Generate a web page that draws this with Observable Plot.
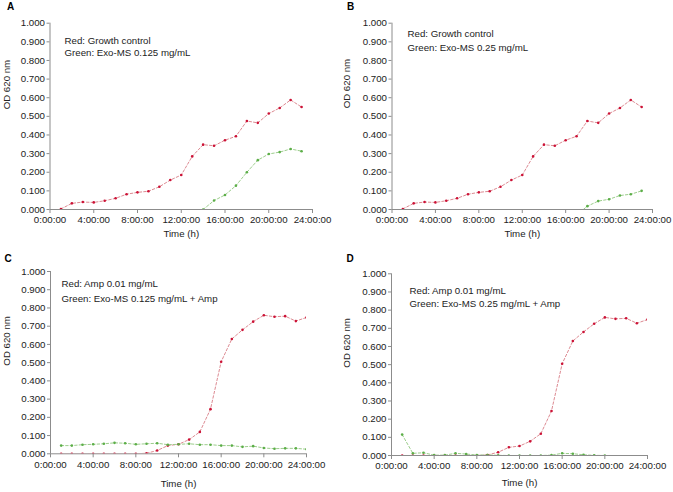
<!DOCTYPE html>
<html><head><meta charset="utf-8">
<script src="https://cdn.jsdelivr.net/npm/d3@7"></script>
<script src="https://cdn.jsdelivr.net/npm/@observablehq/plot@0.6"></script>
<style>
body{margin:0;background:#fff;}
#wrap{position:relative;width:673px;height:492px;overflow:hidden;font-family:"Liberation Sans",Arial,sans-serif;}
#wrap svg{position:absolute;overflow:visible;}
</style></head><body><div id="wrap"></div>
<script>
// ---------- data ----------
const xTicks = [0, 4, 8, 12, 16, 20, 24];
const yTicks = [0, 0.1, 0.2, 0.3, 0.4, 0.5, 0.6, 0.7, 0.8, 0.9, 1.0];

const hoursGrowth = [1,2,3,4,5,6,7,8,9,10,11,12,13,14,15,16,17,18,19,20,21,22,23];
const redGrowth   = [0.003,0.033,0.040,0.038,0.047,0.060,0.082,0.092,0.098,0.122,0.158,0.185,0.285,0.348,0.342,0.372,0.393,0.475,0.465,0.515,0.545,0.588,0.550];

const hoursGreenA = [14,15,16,17,18,19,20,21,22,23];
const greenA      = [0.000,0.048,0.078,0.128,0.200,0.265,0.298,0.308,0.325,0.313];

const hoursGreenB = [17,18,19,20,21,22,23];
const greenB      = [-0.030,0.018,0.045,0.055,0.075,0.082,0.100];

const hoursAmp = [1,2,3,4,5,6,7,8,9,10,11,12,13,14,15,16,17,18,19,20,21,22,23,24];
const redAmp   = [0,0,0,0,0,0,0,0,0.003,0.018,0.045,0.052,0.078,0.120,0.245,0.505,0.630,0.680,0.725,0.760,0.752,0.755,0.728,0.748];

const greenC   = [0.045,0.045,0.050,0.052,0.055,0.060,0.058,0.052,0.055,0.058,0.050,0.052,0.055,0.050,0.050,0.045,0.045,0.038,0.042,0.032,0.028,0.030,0.030,0.025];

const hoursGreenD = [1,2,3,4,5,6,7,8,9,10,11,12,13,14,15,16,17,18,19,20];
const greenD      = [0.115,0.012,0.015,0.002,0.002,0.012,0.008,0.003,0.003,0.001,0,0,0,0,0.002,0.012,0.010,0.004,0.001,0];

const letters = ["A", "B", "C", "D"];
const legendRed = ["Red: Growth control", "Red: Growth control", "Red: Amp 0.01 mg/mL", "Red: Amp 0.01 mg/mL"];
const legendGreen = ["Green: Exo-MS 0.125 mg/mL", "Green: Exo-MS 0.25 mg/mL", "Green: Exo-MS 0.125 mg/mL + Amp", "Green: Exo-MS 0.25 mg/mL + Amp"];
const yTitle = "OD 620 nm";
const xTitle = "Time (h)";

// ---------- layout ----------
const layouts = [
  {left:0,   top:0,   w:336, h:246, ml:49.5, mr:24, mt:22.7, mb:37,  letter:[-43,-20], leg:[14.5,17.3,30], ylab:-43,   ydy:-7, xdy:27},
  {left:336, top:0,   w:336, h:246, ml:55.5, mr:20, mt:22.7, mb:37,  letter:[-45,-20], leg:[15.5,10.3,25], ylab:-45,   ydy:-8, xdy:27},
  {left:0,   top:246, w:336, h:246, ml:50,   mr:30, mt:25,   mb:38.7,letter:[-46,-17], leg:[11,12.3,27.3], ylab:-44,   ydy:3,  xdy:33},
  {left:336, top:246, w:336, h:246, ml:55,   mr:25, mt:27.3, mb:37,  letter:[-45,-19], leg:[18,16.7,30],   ylab:-44.5, ydy:3,  xdy:30}
];

const series = [
  {rh:hoursGrowth, rv:redGrowth, gh:hoursGreenA, gv:greenA},
  {rh:hoursGrowth, rv:redGrowth, gh:hoursGreenB, gv:greenB},
  {rh:hoursAmp,    rv:redAmp,    gh:hoursAmp,    gv:greenC},
  {rh:hoursAmp,    rv:redAmp,    gh:hoursGreenD, gv:greenD}
];

const lineRed = "#dc8a92", dotRed = "#cc1236";
const lineGreen = "#9ccd8c", dotGreen = "#5cae48";
const axisColor = "#8c8c8c";
const font = "'Liberation Sans', Arial, sans-serif";

const wrap = document.getElementById("wrap");

series.forEach((s, i) => {
  const L = layouts[i];
  const red = s.rh.map((h, j) => ({h, v: s.rv[j]}));
  const green = s.gh.map((h, j) => ({h, v: s.gv[j]}));
  const chart = Plot.plot({
    width: L.w, height: L.h,
    marginLeft: L.ml, marginRight: L.mr, marginTop: L.mt, marginBottom: L.mb,
    x: {domain: [0, 24]},
    y: {domain: [0, 1]},
    style: {fontFamily: font, fontSize: "9.7px", color: "#222", background: "transparent", overflow: "visible"},
    marks: [
      Plot.axisX({ticks: xTicks, tickFormat: h => `${h}:00:00`, tickSize: 4, tickPadding: 3, label: null, stroke: axisColor, fill: "#222"}),
      Plot.axisY({ticks: yTicks, tickFormat: d3.format(".3f"), tickSize: 3, tickPadding: 2, label: null, stroke: axisColor, fill: "#222"}),
      Plot.ruleY([0], {stroke: axisColor}),
      Plot.ruleX([0], {stroke: axisColor}),
      Plot.lineY(red, {x: "h", y: "v", stroke: lineRed, strokeWidth: 1, strokeDasharray: "2.5,2", clip: true}),
      Plot.lineY(green, {x: "h", y: "v", stroke: lineGreen, strokeWidth: 1, strokeDasharray: "2.5,2", clip: true}),
      Plot.dot(red, {x: "h", y: "v", r: 1.3, fill: dotRed, clip: true}),
      Plot.dot(green, {x: "h", y: "v", r: 1.3, fill: dotGreen, clip: true}),
      Plot.text([letters[i]], {text: d => d, frameAnchor: "top-left", textAnchor: "start", dx: L.letter[0], dy: L.letter[1], fontWeight: "bold", fontSize: 10, fill: "#000"}),
      Plot.text([legendRed[i]], {text: d => d, frameAnchor: "top-left", textAnchor: "start", lineAnchor: "middle", dx: L.leg[0], dy: L.leg[1], fill: "#222"}),
      Plot.text([legendGreen[i]], {text: d => d, frameAnchor: "top-left", textAnchor: "start", lineAnchor: "middle", dx: L.leg[0], dy: L.leg[2], fill: "#222"}),
      Plot.text([yTitle], {text: d => d, frameAnchor: "left", rotate: -90, dx: L.ylab, dy: L.ydy, fill: "#222"}),
      Plot.text([xTitle], {text: d => d, frameAnchor: "bottom", dy: L.xdy, fill: "#222"})
    ]
  });
  chart.style.left = L.left + "px";
  chart.style.top = L.top + "px";
  wrap.appendChild(chart);
});
</script>
</body></html>
